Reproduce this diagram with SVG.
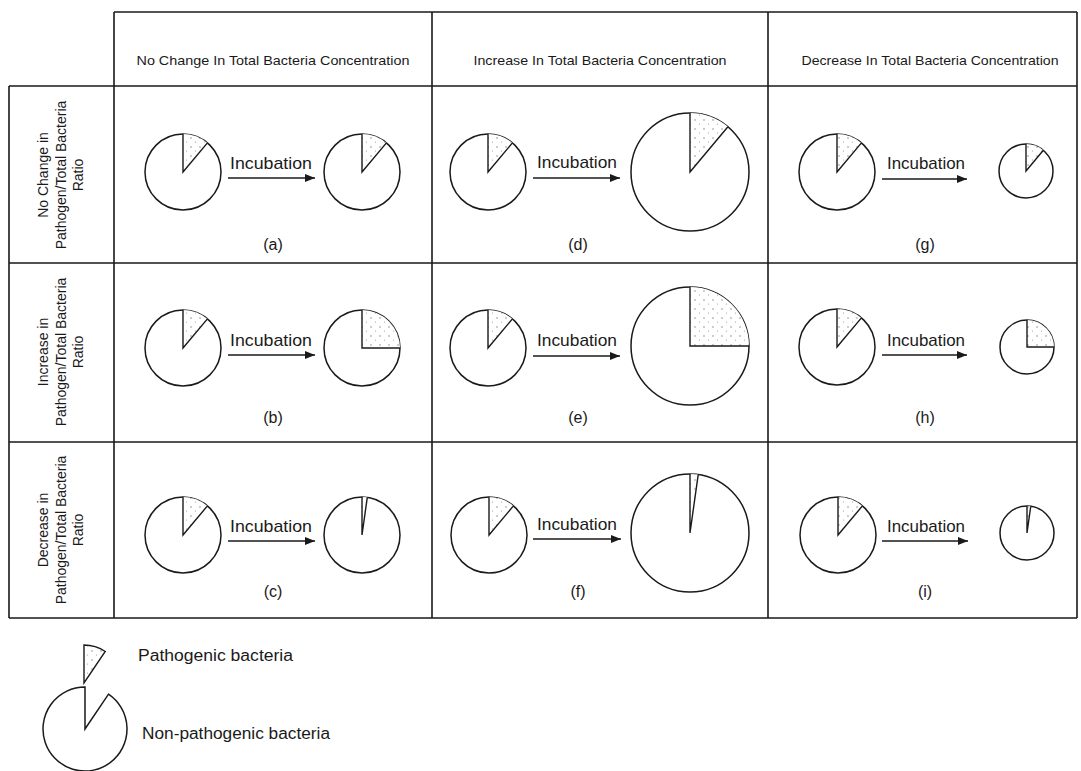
<svg xmlns="http://www.w3.org/2000/svg" width="1081" height="771" viewBox="0 0 1081 771">
<style>
.grid{stroke:#1a1a1a;stroke-width:1.6;fill:none}
.rim{fill:#fff;stroke:#1a1a1a;stroke-width:1.5}
.wedge{fill:url(#stip);stroke:none}
.rad{fill:none;stroke:#1a1a1a;stroke-width:1.4}
.arr{stroke:#1a1a1a;stroke-width:1.5;fill:none}
text{font-family:"Liberation Sans",Arial,sans-serif;fill:#1a1a1a}
.hdr{font-size:13px;text-anchor:middle}
.row{font-size:14px;text-anchor:middle}
.inc{font-size:17px;text-anchor:middle}
.lbl{font-size:16px;text-anchor:middle}
.leg{font-size:16px}
</style>
<defs>
<pattern id="stip" width="9" height="9" patternUnits="userSpaceOnUse">
<rect width="9" height="9" fill="#fff"/>
<circle cx="2" cy="3" r="0.7" fill="#777"/>
<circle cx="6.5" cy="7" r="0.6" fill="#999"/>
</pattern>
<marker id="ah" markerUnits="userSpaceOnUse" markerWidth="10" markerHeight="8" refX="10" refY="4" orient="auto">
<path d="M0,0 L10,4 L0,8 Z" fill="#1a1a1a"/>
</marker>
</defs>

<g id="grid" class="grid">
<path d="M114,12 H1077 M9,86 H1077 M9,263 H1077 M9,442 H1077 M9,618 H1077"/>
<path d="M9,86 V618 M114,12 V618 M432,12 V618 M768,12 V618 M1077,12 V618"/>
</g>

<g id="headers">
<text class="hdr" x="273" y="65" textLength="273" lengthAdjust="spacingAndGlyphs">No Change In Total Bacteria Concentration</text>
<text class="hdr" x="600" y="65" textLength="253" lengthAdjust="spacingAndGlyphs">Increase In Total Bacteria Concentration</text>
<text class="hdr" x="930" y="65" textLength="257" lengthAdjust="spacingAndGlyphs">Decrease In Total Bacteria Concentration</text>
</g>

<g id="row-labels">
<g transform="translate(0,175) rotate(-90)">
<text class="row" x="0" y="48">No Change in</text>
<text class="row" x="0" y="65.5">Pathogen/Total Bacteria</text>
<text class="row" x="0" y="83">Ratio</text>
</g>
<g transform="translate(0,352) rotate(-90)">
<text class="row" x="0" y="48">Increase in</text>
<text class="row" x="0" y="65.5">Pathogen/Total Bacteria</text>
<text class="row" x="0" y="83">Ratio</text>
</g>
<g transform="translate(0,530) rotate(-90)">
<text class="row" x="0" y="48">Decrease in</text>
<text class="row" x="0" y="65.5">Pathogen/Total Bacteria</text>
<text class="row" x="0" y="83">Ratio</text>
</g>
</g>

<g id="connectors">
<line class="arr" x1="228" y1="178" x2="315" y2="178" marker-end="url(#ah)"/>
<line class="arr" x1="533" y1="178" x2="620" y2="178" marker-end="url(#ah)"/>
<line class="arr" x1="882" y1="179" x2="967" y2="179" marker-end="url(#ah)"/>
<line class="arr" x1="228" y1="355" x2="315" y2="355" marker-end="url(#ah)"/>
<line class="arr" x1="533" y1="356" x2="620" y2="356" marker-end="url(#ah)"/>
<line class="arr" x1="882" y1="355" x2="967" y2="355" marker-end="url(#ah)"/>
<line class="arr" x1="228" y1="541" x2="315" y2="541" marker-end="url(#ah)"/>
<line class="arr" x1="533" y1="539" x2="621" y2="539" marker-end="url(#ah)"/>
<line class="arr" x1="882" y1="541" x2="968" y2="541" marker-end="url(#ah)"/>
<text class="inc" x="271" y="169" textLength="82" lengthAdjust="spacingAndGlyphs">Incubation</text>
<text class="inc" x="577" y="168" textLength="80" lengthAdjust="spacingAndGlyphs">Incubation</text>
<text class="inc" x="926" y="169" textLength="78" lengthAdjust="spacingAndGlyphs">Incubation</text>
<text class="inc" x="271" y="346" textLength="82" lengthAdjust="spacingAndGlyphs">Incubation</text>
<text class="inc" x="577" y="346" textLength="80" lengthAdjust="spacingAndGlyphs">Incubation</text>
<text class="inc" x="926" y="346" textLength="78" lengthAdjust="spacingAndGlyphs">Incubation</text>
<text class="inc" x="271" y="532" textLength="82" lengthAdjust="spacingAndGlyphs">Incubation</text>
<text class="inc" x="577" y="530" textLength="80" lengthAdjust="spacingAndGlyphs">Incubation</text>
<text class="inc" x="926" y="532" textLength="78" lengthAdjust="spacingAndGlyphs">Incubation</text>
</g>

<g id="cell-a">
<circle class="rim" cx="183" cy="172" r="38"/>
<path class="wedge" d="M183,172 L183,134 A38,38 0 0 1 207.43,142.89 Z"/>
<path class="rad" d="M183,134 L183,172 L207.43,142.89"/>
<circle class="rim" cx="362" cy="172" r="38"/>
<path class="wedge" d="M362,172 L362,134 A38,38 0 0 1 386.43,142.89 Z"/>
<path class="rad" d="M362,134 L362,172 L386.43,142.89"/>
<text class="lbl" x="273" y="250">(a)</text>
</g>
<g id="cell-d">
<circle class="rim" cx="488" cy="172" r="38"/>
<path class="wedge" d="M488,172 L488,134 A38,38 0 0 1 512.43,142.89 Z"/>
<path class="rad" d="M488,134 L488,172 L512.43,142.89"/>
<circle class="rim" cx="690" cy="172" r="59"/>
<path class="wedge" d="M690,172 L690,113 A59,59 0 0 1 727.93,126.81 Z"/>
<path class="rad" d="M690,113 L690,172 L727.93,126.81"/>
<text class="lbl" x="578" y="250">(d)</text>
</g>
<g id="cell-g">
<circle class="rim" cx="837" cy="172" r="38"/>
<path class="wedge" d="M837,172 L837,134 A38,38 0 0 1 861.43,142.89 Z"/>
<path class="rad" d="M837,134 L837,172 L861.43,142.89"/>
<circle class="rim" cx="1026" cy="171" r="27"/>
<path class="wedge" d="M1026,171 L1026,144 A27,27 0 0 1 1043.36,150.32 Z"/>
<path class="rad" d="M1026,144 L1026,171 L1043.36,150.32"/>
<text class="lbl" x="925" y="250">(g)</text>
</g>

<g id="cell-b">
<circle class="rim" cx="183" cy="348" r="38"/>
<path class="wedge" d="M183,348 L183,310 A38,38 0 0 1 207.43,318.89 Z"/>
<path class="rad" d="M183,310 L183,348 L207.43,318.89"/>
<circle class="rim" cx="362" cy="348" r="38"/>
<path class="wedge" d="M362,348 L362,310 A38,38 0 0 1 400,348 Z"/>
<path class="rad" d="M362,310 L362,348 L400,348"/>
<text class="lbl" x="273" y="423">(b)</text>
</g>
<g id="cell-e">
<circle class="rim" cx="488" cy="348" r="38"/>
<path class="wedge" d="M488,348 L488,310 A38,38 0 0 1 512.43,318.89 Z"/>
<path class="rad" d="M488,310 L488,348 L512.43,318.89"/>
<circle class="rim" cx="690" cy="346" r="59"/>
<path class="wedge" d="M690,346 L690,287 A59,59 0 0 1 749,346 Z"/>
<path class="rad" d="M690,287 L690,346 L749,346"/>
<text class="lbl" x="578" y="423">(e)</text>
</g>
<g id="cell-h">
<circle class="rim" cx="837" cy="347" r="38"/>
<path class="wedge" d="M837,347 L837,309 A38,38 0 0 1 861.43,317.89 Z"/>
<path class="rad" d="M837,309 L837,347 L861.43,317.89"/>
<circle class="rim" cx="1027" cy="347" r="27"/>
<path class="wedge" d="M1027,347 L1027,320 A27,27 0 0 1 1054,347 Z"/>
<path class="rad" d="M1027,320 L1027,347 L1054,347"/>
<text class="lbl" x="925" y="423">(h)</text>
</g>

<g id="cell-c">
<circle class="rim" cx="183" cy="535" r="38"/>
<path class="wedge" d="M183,535 L183,497 A38,38 0 0 1 207.43,505.89 Z"/>
<path class="rad" d="M183,497 L183,535 L207.43,505.89"/>
<circle class="rim" cx="362" cy="535" r="38"/>
<path class="wedge" d="M362,535 L362,497 A38,38 0 0 1 367.29,497.37 Z"/>
<path class="rad" d="M362,497 L362,535 L367.29,497.37"/>
<text class="lbl" x="273" y="597">(c)</text>
</g>
<g id="cell-f">
<circle class="rim" cx="489" cy="535" r="38"/>
<path class="wedge" d="M489,535 L489,497 A38,38 0 0 1 513.43,505.89 Z"/>
<path class="rad" d="M489,497 L489,535 L513.43,505.89"/>
<circle class="rim" cx="690" cy="533" r="59"/>
<path class="wedge" d="M690,533 L690,474 A59,59 0 0 1 698.21,474.57 Z"/>
<path class="rad" d="M690,474 L690,533 L698.21,474.57"/>
<text class="lbl" x="578" y="597">(f)</text>
</g>
<g id="cell-i">
<circle class="rim" cx="838" cy="535" r="38"/>
<path class="wedge" d="M838,535 L838,497 A38,38 0 0 1 862.43,505.89 Z"/>
<path class="rad" d="M838,497 L838,535 L862.43,505.89"/>
<circle class="rim" cx="1027" cy="533" r="27"/>
<path class="wedge" d="M1027,533 L1027,506 A27,27 0 0 1 1030.76,506.26 Z"/>
<path class="rad" d="M1027,506 L1027,533 L1030.76,506.26"/>
<text class="lbl" x="925" y="597">(i)</text>
</g>

<g id="legend-pathogenic">
<path d="M84,683 L84,645 A38,38 0 0 1 105.25,651.5 Z" fill="url(#stip)" stroke="#1a1a1a" stroke-width="1.4"/>
<text class="leg" x="138" y="661" textLength="155" lengthAdjust="spacingAndGlyphs">Pathogenic bacteria</text>
</g>
<g id="legend-nonpathogenic">
<path d="M85,729 L108.49,694.18 A42,42 0 1 1 85,687 Z" fill="#fff" stroke="#1a1a1a" stroke-width="1.5"/>
<text class="leg" x="142" y="739" textLength="188" lengthAdjust="spacingAndGlyphs">Non-pathogenic bacteria</text>
</g>
</svg>
